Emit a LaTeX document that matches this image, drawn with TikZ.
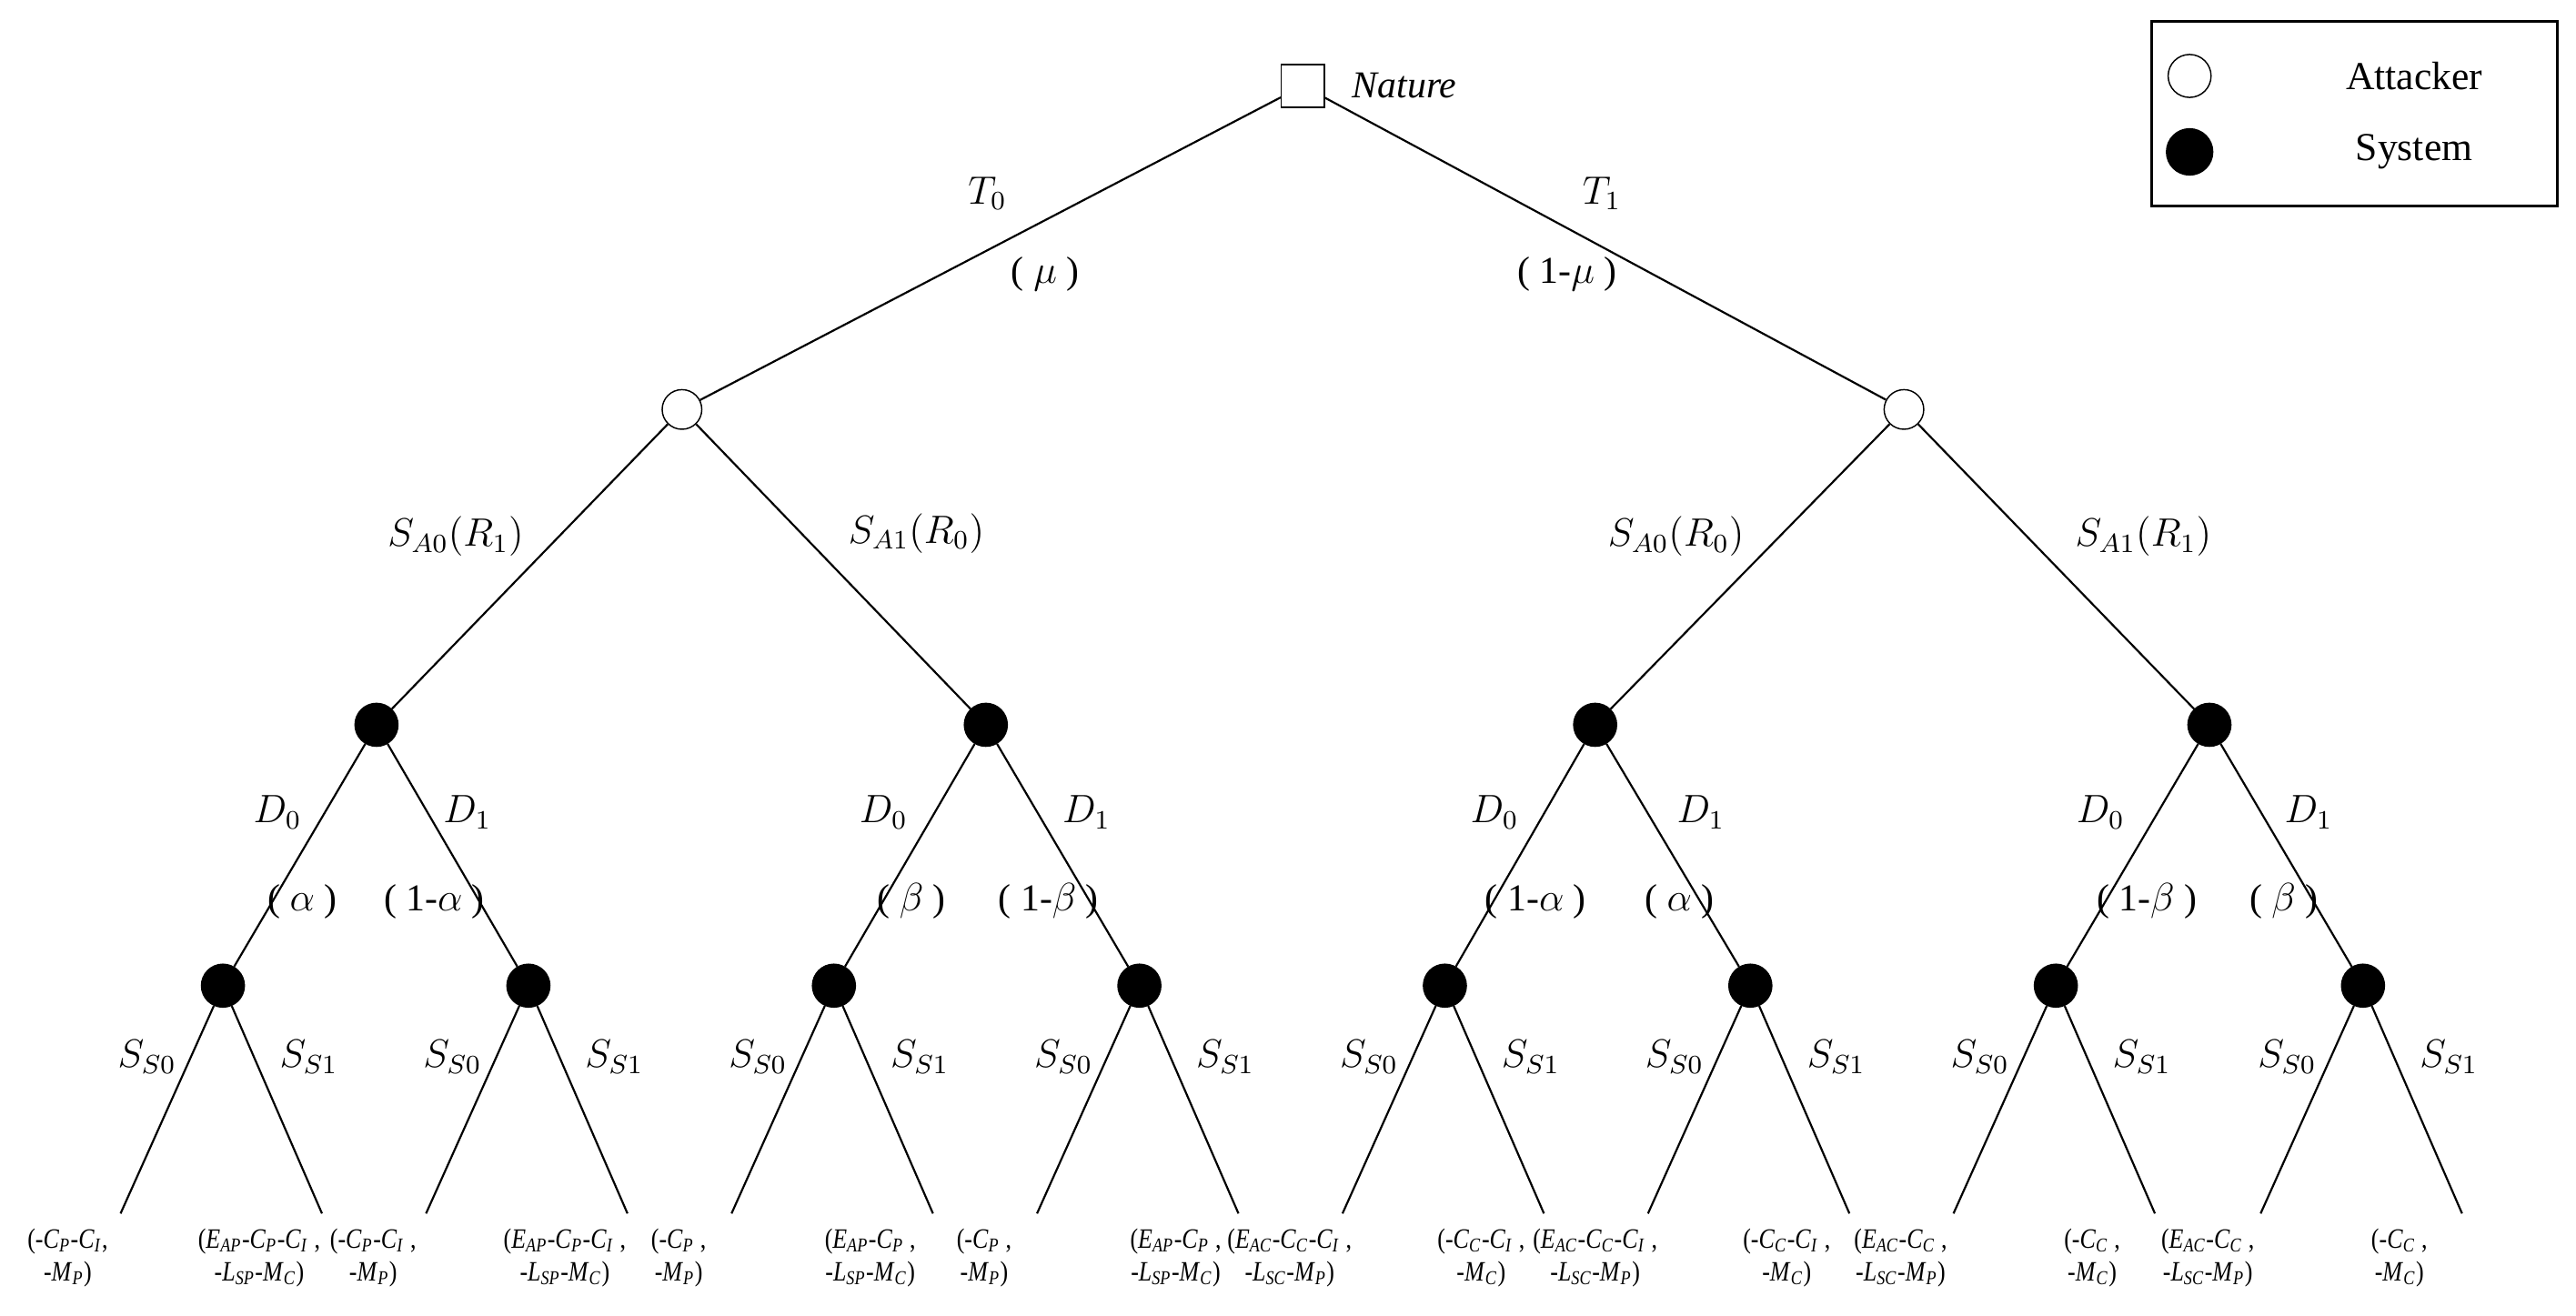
\documentclass[tikz,border=0pt]{standalone}
\usepackage{fontspec}
\setmainfont{Liberation Serif}
\newcommand{\Vv}[2]{\textit{#1}\textsubscript{\textit{#2}}}
\newcommand{\LL}[2]{\scalebox{0.84}[1]{\begin{tabular}{@{}c@{}}#1\\[-1pt]#2\end{tabular}}}
\begin{document}
\begin{tikzpicture}[x=0.5pt,y=-0.5pt,
  att/.style={circle,draw,fill=white,inner sep=0pt,minimum size=12pt},
  sys/.style={circle,draw,fill=black,inner sep=0pt,minimum size=13pt},
  lab/.style={font=\fontsize{11.5}{13}\selectfont},
  leaf/.style={font=\fontsize{8.5}{11}\selectfont,inner sep=0pt,anchor=north},
  edge/.style={line width=0.6pt}]
\useasboundingbox (0,0) rectangle (1560,797);
% legend
\node[draw,line width=0.8pt,minimum width=123pt,minimum height=56pt,anchor=north west] (leg) at (1302,12) {};
\node[att,minimum size=13pt] (la) at (1326,46) {};
\node[sys,minimum size=14pt] (ls) at (1326,92) {};
\node[lab,font=\fontsize{12}{14}\selectfont] (lat) at (1462,46) {Attacker};
\node[lab,font=\fontsize{12}{14}\selectfont] (lst) at (1462,92) {System};
% nodes
\node[draw,fill=white,minimum size=13pt,inner sep=0pt] (n) at (789,52) {};
\node[lab,anchor=west] (nl) at (812,52) {\textit{Nature}};
\node[att] (a0) at (413,248) {};
\node[att] (a1) at (1153,248) {};
\foreach \i/\x in {0/228,1/597,2/966,3/1338} \node[sys] (s\i) at (\x,439) {};
\foreach \i/\x in {0/135,1/320,2/505,3/690,4/875,5/1060,6/1245,7/1431} {
  \node[sys] (t\i) at (\x,597) {};
  \coordinate (e\i a) at (\x-62,735);
  \coordinate (e\i b) at (\x+60,735);
  \coordinate (l\i a) at (\x-94,740);
  \coordinate (l\i b) at (\x+22,740);
  \draw[edge] (t\i) -- (e\i a);
  \draw[edge] (t\i) -- (e\i b);
  \node[lab] (ss\i a) at (\x-46,640) {$S_{S0}$};
  \node[lab] (ss\i b) at (\x+52,640) {$S_{S1}$};
}
\draw[edge] (n) -- (a0); \draw[edge] (n) -- (a1);
\draw[edge] (a0) -- (s0); \draw[edge] (a0) -- (s1);
\draw[edge] (a1) -- (s2); \draw[edge] (a1) -- (s3);
\draw[edge] (s0) -- (t0); \draw[edge] (s0) -- (t1);
\draw[edge] (s1) -- (t2); \draw[edge] (s1) -- (t3);
\draw[edge] (s2) -- (t4); \draw[edge] (s2) -- (t5);
\draw[edge] (s3) -- (t6); \draw[edge] (s3) -- (t7);
% labels
\node[lab] at (598,117) {$T_0$};
\node[lab] at (633,166) {( $\mu$ )};
\node[lab] at (970,117) {$T_1$};
\node[lab] at (949,166) {( 1-$\mu$ )};
\node[lab] at (276,325) {$S_{A0}(R_1)$};
\node[lab] at (555,323) {$S_{A1}(R_0)$};
\node[lab] at (1015,325) {$S_{A0}(R_0)$};
\node[lab] at (1298,325) {$S_{A1}(R_1)$};
\node[lab] at (168,492) {$D_0$}; \node[lab] at (283,492) {$D_1$};
\node[lab] at (183,546) {( $\alpha$ )}; \node[lab] at (263,546) {( 1-$\alpha$ )};
\node[lab] at (535,492) {$D_0$}; \node[lab] at (658,492) {$D_1$};
\node[lab] at (552,546) {( $\beta$ )}; \node[lab] at (635,546) {( 1-$\beta$ )};
\node[lab] at (905,492) {$D_0$}; \node[lab] at (1030,492) {$D_1$};
\node[lab] at (930,546) {( 1-$\alpha$ )}; \node[lab] at (1017,546) {( $\alpha$ )};
\node[lab] at (1272,492) {$D_0$}; \node[lab] at (1398,492) {$D_1$};
\node[lab] at (1300,546) {( 1-$\beta$ )}; \node[lab] at (1383,546) {( $\beta$ )};
% leaves
\node[leaf] at (l0a) {\LL{(-\Vv{C}{P}-\Vv{C}{I},}{-\Vv{M}{P})}};
\node[leaf] at (l0b) {\LL{(\Vv{E}{AP}-\Vv{C}{P}-\Vv{C}{I} ,}{-\Vv{L}{SP}-\Vv{M}{C})}};
\node[leaf] at (l1a) {\LL{(-\Vv{C}{P}-\Vv{C}{I} ,}{-\Vv{M}{P})}};
\node[leaf] at (l1b) {\LL{(\Vv{E}{AP}-\Vv{C}{P}-\Vv{C}{I} ,}{-\Vv{L}{SP}-\Vv{M}{C})}};
\node[leaf] at (l2a) {\LL{(-\Vv{C}{P} ,}{-\Vv{M}{P})}};
\node[leaf] at (l2b) {\LL{(\Vv{E}{AP}-\Vv{C}{P} ,}{-\Vv{L}{SP}-\Vv{M}{C})}};
\node[leaf] at (l3a) {\LL{(-\Vv{C}{P} ,}{-\Vv{M}{P})}};
\node[leaf] at (l3b) {\LL{(\Vv{E}{AP}-\Vv{C}{P} ,}{-\Vv{L}{SP}-\Vv{M}{C})}};
\node[leaf] at (l4a) {\LL{(\Vv{E}{AC}-\Vv{C}{C}-\Vv{C}{I} ,}{-\Vv{L}{SC}-\Vv{M}{P})}};
\node[leaf] at (l4b) {\LL{(-\Vv{C}{C}-\Vv{C}{I} ,}{-\Vv{M}{C})}};
\node[leaf] at (l5a) {\LL{(\Vv{E}{AC}-\Vv{C}{C}-\Vv{C}{I} ,}{-\Vv{L}{SC}-\Vv{M}{P})}};
\node[leaf] at (l5b) {\LL{(-\Vv{C}{C}-\Vv{C}{I} ,}{-\Vv{M}{C})}};
\node[leaf] at (l6a) {\LL{(\Vv{E}{AC}-\Vv{C}{C} ,}{-\Vv{L}{SC}-\Vv{M}{P})}};
\node[leaf] at (l6b) {\LL{(-\Vv{C}{C} ,}{-\Vv{M}{C})}};
\node[leaf] at (l7a) {\LL{(\Vv{E}{AC}-\Vv{C}{C} ,}{-\Vv{L}{SC}-\Vv{M}{P})}};
\node[leaf] at (l7b) {\LL{(-\Vv{C}{C} ,}{-\Vv{M}{C})}};
\end{tikzpicture}
\end{document}
